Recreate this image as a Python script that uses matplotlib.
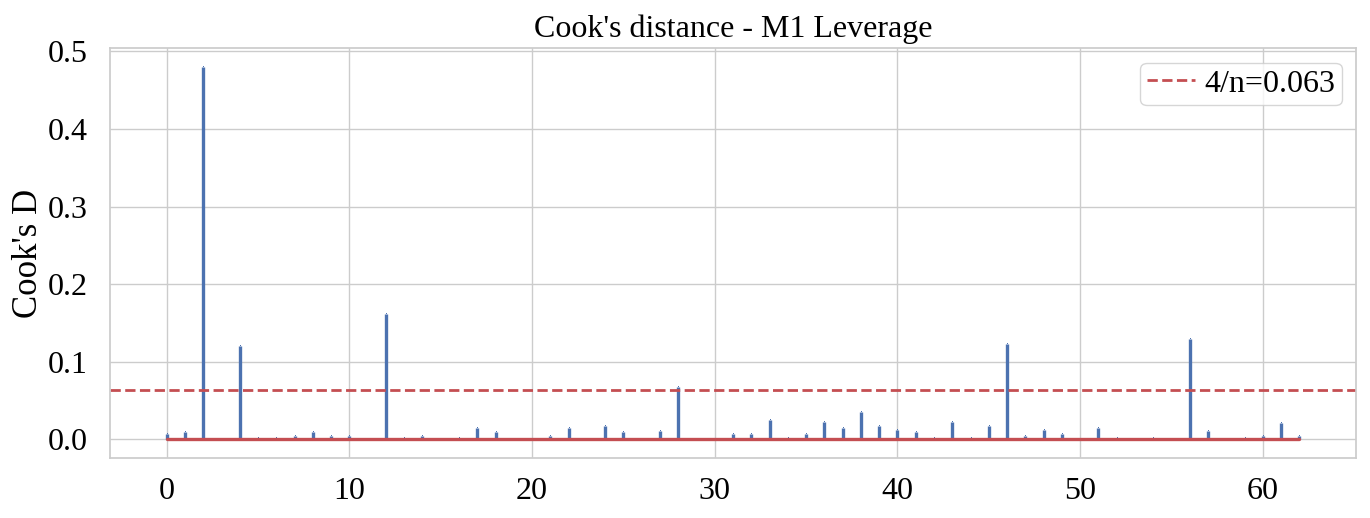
"""Cook's distance stem chart for the M1 leverage check."""

import matplotlib

matplotlib.use("Agg", force=True)

import matplotlib.pyplot as plt
import numpy as np
import seaborn as sns


cooks_d = [
    0.0073, 0.0095, 0.480, 0.0005, 0.120, 0.002, 0.002, 0.005, 0.0095, 0.005,
    0.005, 0.0005, 0.162, 0.002, 0.005, 0.0005, 0.002, 0.0146, 0.0095, 0.0005,
    0.0005, 0.005, 0.0146, 0.0005, 0.0168, 0.0095, 0.0005, 0.0107, 0.067, 0.0005,
    0.0005, 0.0073, 0.0073, 0.025, 0.002, 0.0065, 0.0228, 0.0146, 0.0348, 0.0168,
    0.0125, 0.0095, 0.002, 0.0228, 0.002, 0.0168, 0.123, 0.005, 0.0125, 0.0073,
    0.0005, 0.0146, 0.002, 0.0005, 0.002, 0.0005, 0.129, 0.011, 0.0005, 0.002,
    0.005, 0.021, 0.005,
]
n_obs = len(cooks_d)
threshold = 4 / n_obs

sns.set_theme(style="whitegrid", color_codes=True)
plt.rcParams["font.family"] = ["Liberation Serif", "DejaVu Serif"]

fig = plt.figure(figsize=(13.7, 5.18), dpi=100)
ax = fig.add_axes([0.0803, 0.1158, 0.9095, 0.7908])

idx = np.arange(n_obs)
markers, stems, base = ax.stem(idx, cooks_d, markerfmt=",", basefmt="r-")
plt.setp(stems, color="#4c72b0", linewidth=2.4)
plt.setp(markers, color="#4c72b0")
plt.setp(base, color="#c44e52", linewidth=2.4)

ax.axhline(threshold, color="#c44e52", linestyle="--", linewidth=2,
           label=f"4/n={threshold:.3f}")

ax.set_title("Cook's distance - M1 Leverage", fontsize=23, pad=8,
             color="black")
ax.set_ylabel("Cook's D", fontsize=25, labelpad=2, color="black")
ax.tick_params(axis="y", labelsize=23, pad=10, labelcolor="black")
ax.tick_params(axis="x", labelsize=23, pad=8, labelcolor="black")
leg = ax.legend(loc="upper right", fontsize=23, handlelength=1.5,
                handletextpad=0.3, borderpad=0.2, borderaxespad=0.45)
for t in leg.get_texts():
    t.set_color("black")

fig.savefig("out.png", dpi=100, facecolor="white")
